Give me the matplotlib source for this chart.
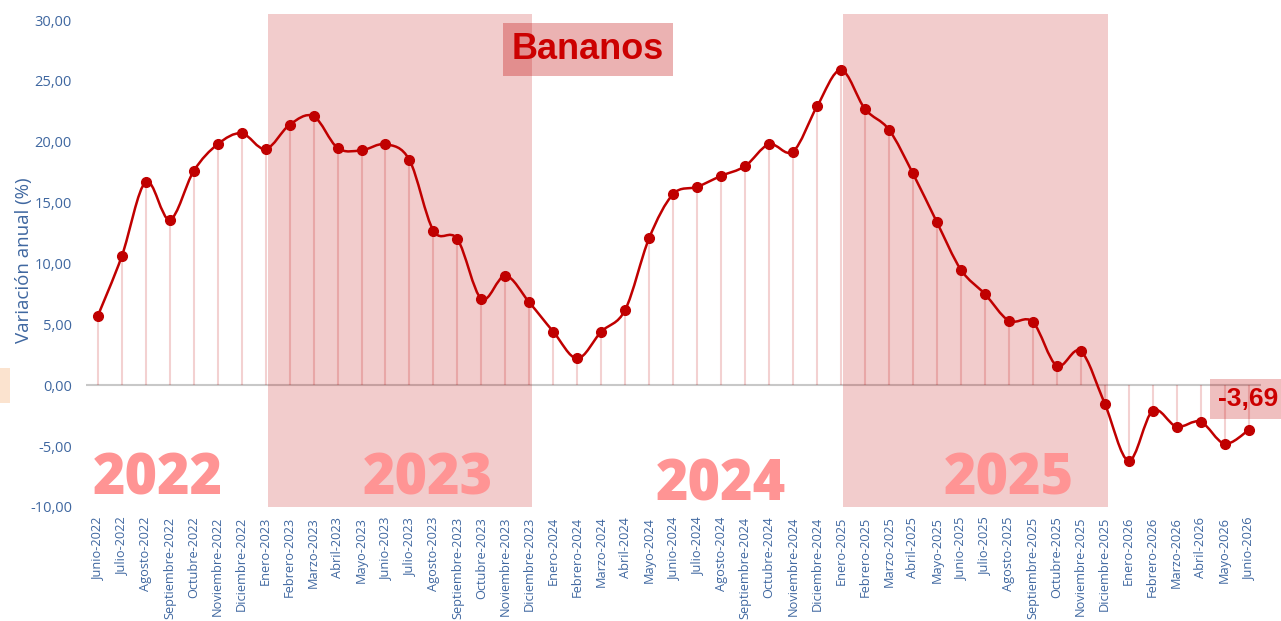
import numpy as np
import matplotlib.pyplot as plt
from matplotlib import rcParams
from matplotlib.path import Path
from matplotlib.patches import PathPatch, Rectangle

rcParams['font.family'] = 'sans-serif'
rcParams['font.sans-serif'] = ['Open Sans']

meses = ['Enero', 'Febrero', 'Marzo', 'Abril', 'Mayo', 'Junio', 'Julio',
         'Agosto', 'Septiembre', 'Octubre', 'Noviembre', 'Diciembre']
labels = []
for year in range(2022, 2027):
    for m in meses:
        labels.append(m + '-' + str(year))
labels = labels[5:5 + 49]   # Junio-2022 .. Junio-2026

values = [5.7, 10.6, 16.7, 13.6, 17.6, 19.8, 20.7,
          19.4, 21.4, 22.1, 19.5, 19.3, 19.8, 18.5, 12.7, 12.0, 7.1, 9.0, 6.8,
          4.4, 2.2, 4.4, 6.2, 12.1, 15.7, 16.3, 17.2, 18.0, 19.8, 19.2, 22.9,
          25.9, 22.7, 21.0, 17.4, 13.4, 9.5, 7.5, 5.3, 5.2, 1.6, 2.8, -1.5,
          -6.2, -2.1, -3.4, -3.0, -4.8, -3.69]

shaded = [('Enero-2023', 'Diciembre-2023'), ('Enero-2025', 'Diciembre-2025')]
years = ['2022', '2023', '2024', '2025']
year_x = [2.5, 13.75, 26.0, 38.0]
year_y = [-7.8, -7.8, -8.3, -7.8]

red = '#C00000'
blue = '#3F67A0'

fig = plt.figure(figsize=(12.81, 6.21), dpi=100)
ax = fig.add_axes([0.067, 0.1836, 0.917, 0.7939])

x = np.arange(len(values))
y = np.array(values)

for a, b in shaded:
    i0, i1 = labels.index(a), labels.index(b)
    ax.add_patch(Rectangle((i0 + 0.08, -10), i1 - i0 + 0.05, 40.5,
                           facecolor=red, alpha=0.2, edgecolor='none',
                           zorder=1))

ax.axhline(0, color='#C8C8C8', lw=1.5, zorder=0)
ax.vlines(x, 0, y, color=red, alpha=0.18, lw=1.5, zorder=2)

# smooth line (Catmull-Rom style bezier, like a spreadsheet smoothed line)
verts = [(x[0], y[0])]
codes = [Path.MOVETO]
n = len(x)
for i in range(n - 1):
    p0 = (x[max(i - 1, 0)], y[max(i - 1, 0)])
    p1 = (x[i], y[i])
    p2 = (x[i + 1], y[i + 1])
    p3 = (x[min(i + 2, n - 1)], y[min(i + 2, n - 1)])
    c1 = (p1[0] + (p2[0] - p0[0]) / 6., p1[1] + (p2[1] - p0[1]) / 6.)
    c2 = (p2[0] - (p3[0] - p1[0]) / 6., p2[1] - (p3[1] - p1[1]) / 6.)
    verts += [c1, c2, p2]
    codes += [Path.CURVE4] * 3
ax.add_patch(PathPatch(Path(verts, codes), facecolor='none', edgecolor=red,
                       lw=1.8, zorder=3))
ax.plot(x, y, 'o', color=red, markersize=7, zorder=4)

for t, xx, yy in zip(years, year_x, year_y):
    ax.text(xx, yy, t, fontsize=40, fontweight='heavy', color='#FF9494',
            ha='center', va='center', zorder=5)

ax.text(20.45, 27.6, 'Bananos', fontsize=26, fontweight='bold', color='#CC0000',
        family='Liberation Sans', ha='center', va='center', zorder=6,
        bbox=dict(boxstyle='square,pad=0.25', facecolor=red, alpha=0.3,
                  edgecolor='none'))

ax.text(48.0, values[-1] + 2.55, '-3,69', fontsize=19, fontweight='bold',
        color='#CC0000', family='Liberation Sans', ha='center', va='center',
        zorder=6, clip_on=False,
        bbox=dict(boxstyle='square,pad=0.3', facecolor=red, alpha=0.25,
                  edgecolor='none'))

fig.patches.append(Rectangle((0, 1 - 403 / 621.), 10 / 1281., 35 / 621.,
                             transform=fig.transFigure, facecolor='#FBE3CF',
                             edgecolor='none'))

ax.set_xlim(-0.5, 48.5)
ax.set_ylim(-10, 30.5)
ax.set_yticks(np.arange(-10, 31, 5))
ax.set_yticklabels(['{:.2f}'.format(v).replace('.', ',') for v in np.arange(-10, 31, 5)])
ax.set_xticks(x)
ax.set_xticklabels(labels, rotation=90, fontsize=9.2)
ax.tick_params(axis='both', length=0, colors=blue)
ax.tick_params(axis='y', labelsize=10.5, pad=10)
ax.tick_params(axis='x', pad=7)
for s in ax.spines.values():
    s.set_visible(False)
ax.set_ylabel('Variación anual (%)', fontsize=13.5, color=blue, labelpad=-2)

fig.savefig('out.png', dpi=100)
